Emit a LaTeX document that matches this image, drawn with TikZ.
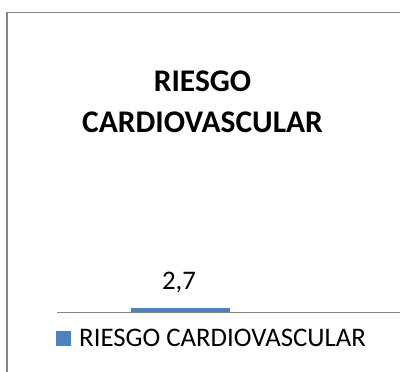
\documentclass[tikz,border=0pt]{standalone}
\usepackage{fontspec}
\setmainfont{Carlito}
\definecolor{barblue}{RGB}{79,129,189}
\definecolor{framegray}{RGB}{134,134,134}
\tikzset{
  txt/.style={inner sep=0pt, anchor=base},
  titlefont/.style={font=\fontsize{31.5}{36}\selectfont\bfseries},
  lblfont/.style={font=\fontsize{26.8}{30}\selectfont},
}
\begin{document}
\begin{tikzpicture}[x=1pt,y=-1pt]
\useasboundingbox (0,0) rectangle (400,372);
% frame
\draw[framegray, line width=1.6pt] (7,372) -- (7,12.5) -- (400,12.5);
% title
\node[txt, titlefont] (t1) at (202.5,92) {RIESGO};
\node[txt, titlefont] (t2) at (202.5,132) {CARDIOVASCULAR};
% axis
\draw[framegray, line width=1.2pt] (57,312.5) -- (400,312.5);
% bar
\fill[barblue] (131,308) rectangle (230,312);
\node[txt, lblfont] (val) at (179,289) {2,7};
% legend
\fill[barblue] (56,331) rectangle (71,346);
\node[txt, lblfont, anchor=base west] (leg) at (79,346) {RIESGO CARDIOVASCULAR};
\end{tikzpicture}
\end{document}
